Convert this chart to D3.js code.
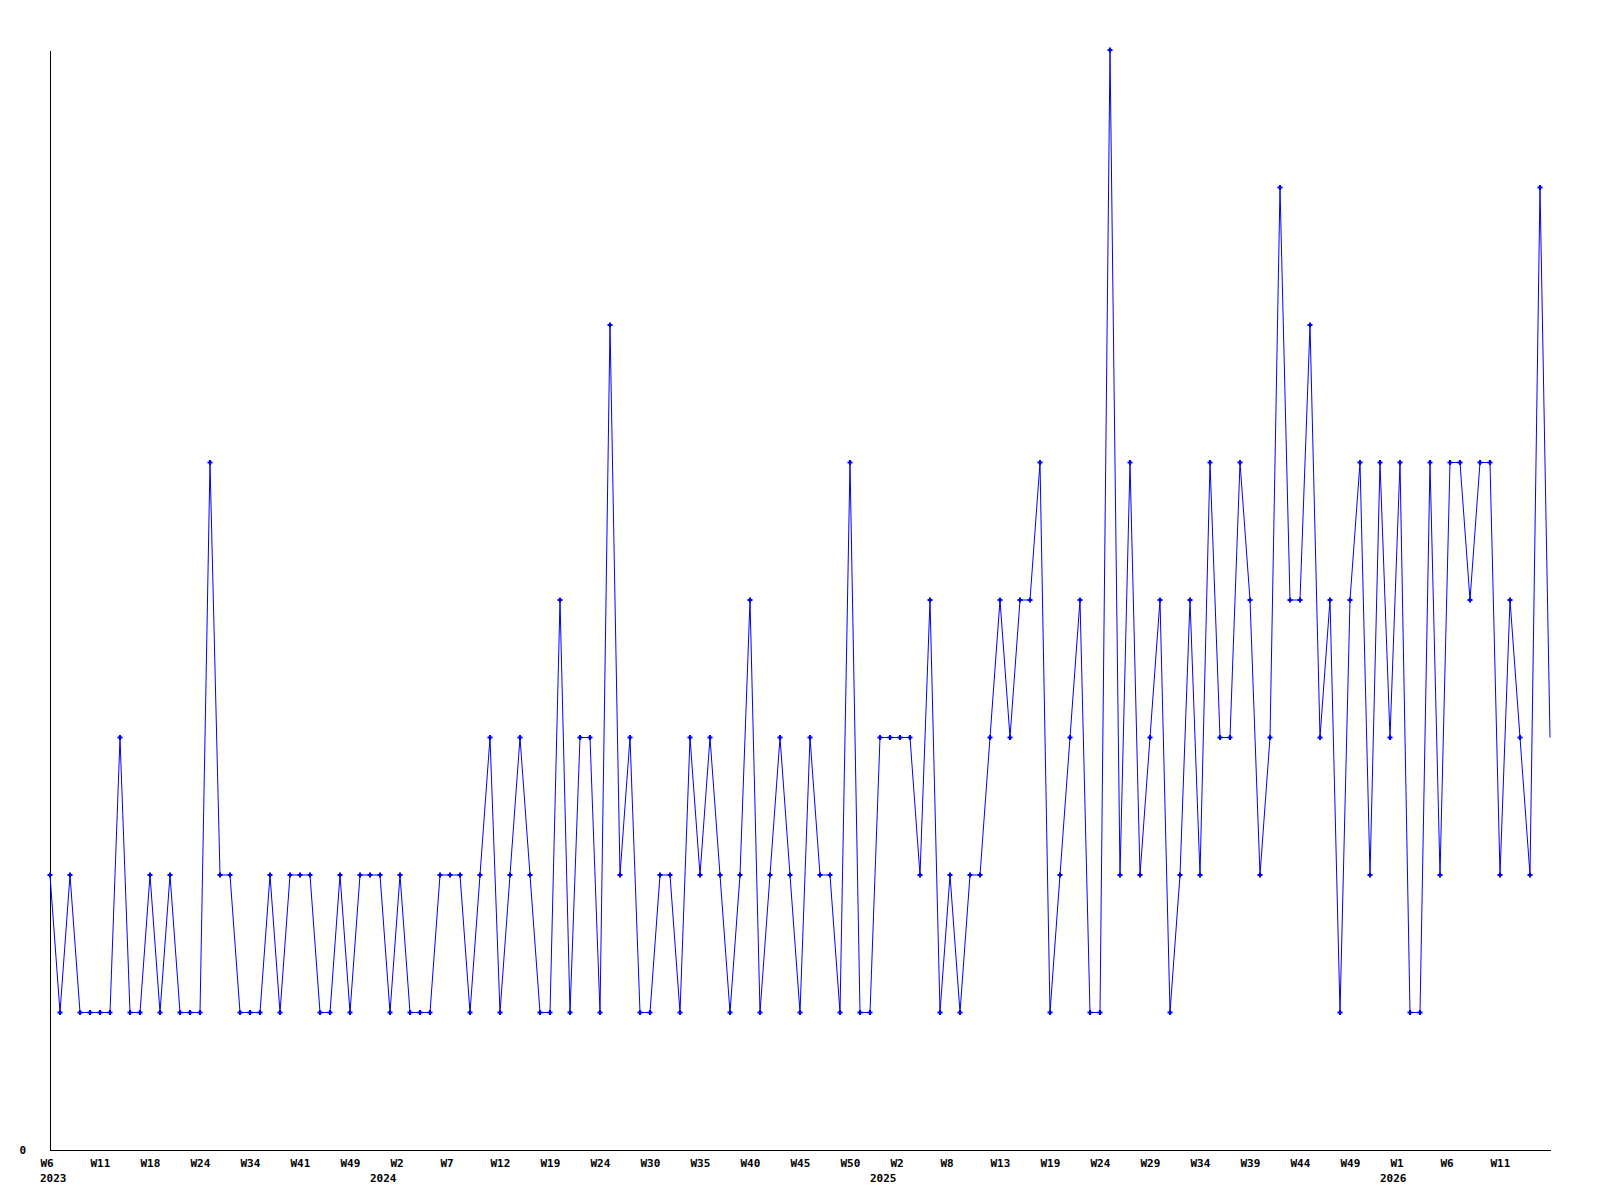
<!DOCTYPE html>
<html>
<head>
<meta charset="utf-8">
<script src="https://cdn.jsdelivr.net/npm/d3@7"></script>
<style>
  body { margin: 0; background: #fff; }
  text { font-family: "DejaVu Sans Mono", "Liberation Mono", monospace; font-weight: bold; font-size: 11px; fill: #000; }
</style>
</head>
<body>
<div id="chart"></div>
<script>
// weekly counts, one per point (last one is the running week, no marker)
var values = [
    2, 1, 2, 1, 1, 1, 1, 3, 1, 1,
    2, 1, 2, 1, 1, 1, 5, 2, 2, 1,
    1, 1, 2, 1, 2, 2, 2, 1, 1, 2,
    1, 2, 2, 2, 1, 2, 1, 1, 1, 2,
    2, 2, 1, 2, 3, 1, 2, 3, 2, 1,
    1, 4, 1, 3, 3, 1, 6, 2, 3, 1,
    1, 2, 2, 1, 3, 2, 3, 2, 1, 2,
    4, 1, 2, 3, 2, 1, 3, 2, 2, 1,
    5, 1, 1, 3, 3, 3, 3, 2, 4, 1,
    2, 1, 2, 2, 3, 4, 3, 4, 4, 5,
    1, 2, 3, 4, 1, 1, 8, 2, 5, 2,
    3, 4, 1, 2, 4, 2, 5, 3, 3, 5,
    4, 2, 3, 7, 4, 4, 6, 3, 4, 1,
    4, 5, 2, 5, 3, 5, 1, 1, 5, 2,
    5, 5, 4, 5, 5, 2, 4, 3, 2, 7,
    3
];

// week labels, one every 5 points
var weekLabels = ["W6", "W11", "W18", "W24", "W34", "W41", "W49", "W2", "W7", "W12",
    "W19", "W24", "W30", "W35", "W40", "W45", "W50", "W2", "W8", "W13",
    "W19", "W24", "W29", "W34", "W39", "W44", "W49", "W1", "W6", "W11"];
var weekStep = 5;

// year labels and the point where each year starts
var years = ["2023", "2024", "2025", "2026"];
var yearIndex = [0, 33, 83, 134];

var yMax = 8;

var width = 1600, height = 1200;
var margin = { top: 50, right: 50, bottom: 50, left: 50 };

var svg = d3.select("#chart")
    .append("svg")
    .attr("width", width)
    .attr("height", height);

var xScale = d3.scaleLinear()
    .domain([0, values.length - 1])
    .range([margin.left, width - margin.right]);

var yScale = d3.scaleLinear()
    .domain([0, yMax])
    .range([height - margin.bottom, margin.top]);

// y axis: only the 0 label
var yAxis = d3.axisLeft(yScale)
    .tickValues([0])
    .tickSize(0)
    .tickPadding(0);

var gy = svg.append("g")
    .attr("transform", "translate(" + margin.left + ",0)")
    .call(yAxis);
gy.select(".domain").attr("stroke", "#000").attr("stroke-width", 1).attr("shape-rendering", "crispEdges");
gy.selectAll("text")
    .attr("x", -24)
    .attr("dy", "0.35em")
    .style("font-family", null).style("font-size", null);

// x axis
var tickIdx = weekLabels.map((d, i) => i * weekStep);
var xAxis = d3.axisBottom(xScale)
    .tickValues(tickIdx)
    .tickSize(0)
    .tickFormat((d, i) => weekLabels[i]);

var gx = svg.append("g")
    .attr("transform", "translate(0," + (height - margin.bottom) + ")")
    .call(xAxis);
gx.select(".domain").attr("stroke", "#000").attr("stroke-width", 1).attr("shape-rendering", "crispEdges");
gx.selectAll("text")
    .style("text-anchor", "start")
    .style("font-family", null).style("font-size", null)
    .attr("x", -10)
    .attr("y", 17)
    .attr("dy", null);

// year labels
svg.selectAll(".year")
    .data(years)
    .enter()
    .append("text")
    .attr("class", "year")
    .attr("x", (d, i) => xScale(yearIndex[i]) - 10)
    .attr("y", height - margin.bottom + 32)
    .text(d => d);

// the line
var line = d3.line()
    .x((d, i) => xScale(i))
    .y(d => yScale(d));

svg.append("path")
    .datum(values)
    .attr("fill", "none")
    .attr("stroke", "#0000ff")
    .attr("stroke-width", 1)
    .attr("d", line);

// markers (not on the running week)
svg.selectAll(".mark")
    .data(values.slice(0, values.length - 1))
    .enter()
    .append("path")
    .attr("class", "mark")
    .attr("transform", (d, i) => "translate(" + xScale(i) + "," + yScale(d) + ")")
    .attr("d", "M-2.5,0H2.5M0,-2.5V2.5")
    .attr("stroke", "#0000ff")
    .attr("stroke-width", 2)
    .attr("fill", "none");
</script>
</body>
</html>
